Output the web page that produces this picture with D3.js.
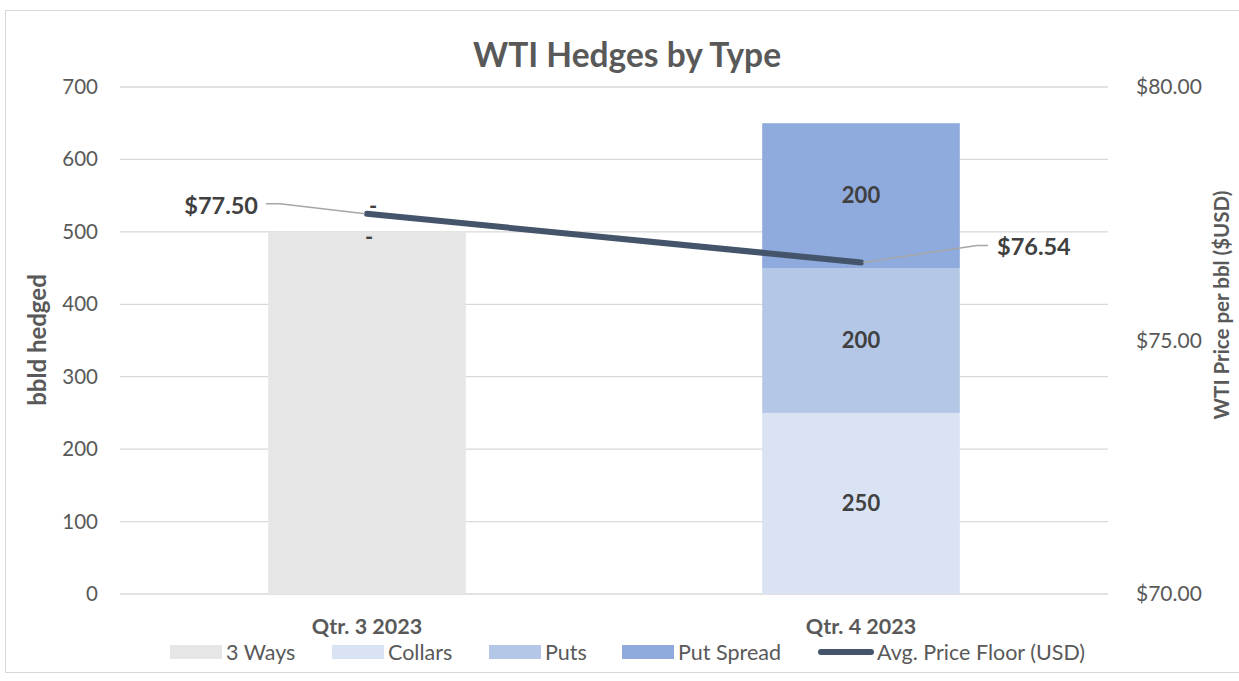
<!DOCTYPE html>
<html><head><meta charset="utf-8">
<script src="https://cdn.jsdelivr.net/npm/d3@7"></script>
<style>body{margin:0;background:#fff;}svg{display:block;font-family:Lato,"Open Sans",sans-serif;}</style>
</head><body>
<svg id="c" width="1239" height="681"></svg>
<script>
const categories = ["Qtr. 3 2023", "Qtr. 4 2023"];
const seriesNames = ["3 Ways", "Collars", "Puts", "Put Spread"];
const threeWays = [500, 0];
const collars = [0, 250];
const puts = [0, 200];
const putSpread = [0, 200];
const priceFloor = [77.50, 76.54];
const leftTicks = [0, 100, 200, 300, 400, 500, 600, 700];
const rightTicks = [70, 75, 80];
const colors = ["#E7E6E6", "#DAE3F3", "#B4C7E7", "#8FAADC"];
const lineColor = "#44546A";

(function () {
const svg = d3.select("#c");
const W = 1239, H = 681;
const pLeft = 120, pRight = 1108, pTop = 87, pBottom = 594;

svg.append("rect").attr("x", 5.5).attr("y", 10.5).attr("width", W).attr("height", 662)
  .attr("fill", "#fff").attr("stroke", "#D9D9D9");

const x = d3.scaleBand().domain(categories).range([pLeft, pRight]).paddingInner(0.6).paddingOuter(0.3);
const y = d3.scaleLinear().domain([0, 700]).range([pBottom, pTop]);
const y2 = d3.scaleLinear().domain([70, 80]).range([pBottom, pTop]);

// gridlines
svg.append("g").selectAll("line").data(leftTicks).join("line")
  .attr("x1", pLeft).attr("x2", pRight).attr("y1", d => y(d)).attr("y2", d => y(d))
  .attr("stroke", "#D9D9D9").attr("stroke-width", 1.3);

// left axis
const la = svg.append("g").attr("transform", `translate(${pLeft},0)`)
  .call(d3.axisLeft(y).tickValues(leftTicks).tickSize(0).tickPadding(22));
la.select(".domain").remove();
la.selectAll("text").attr("font-size", 20.5).attr("fill", "#595959").attr("font-family", "Lato");

// right axis
const ra = svg.append("g").attr("transform", `translate(${pRight},0)`)
  .call(d3.axisRight(y2).tickValues(rightTicks).tickFormat(d => "$" + d3.format(".2f")(d)).tickSize(0).tickPadding(28));
ra.select(".domain").remove();
ra.selectAll("text").attr("font-size", 21).attr("fill", "#595959").attr("font-family", "Lato");

// stacked bars
const table = categories.map((c, i) => ({cat: c, "3 Ways": threeWays[i], "Collars": collars[i], "Puts": puts[i], "Put Spread": putSpread[i]}));
const stack = d3.stack().keys(seriesNames)(table);
const gBars = svg.append("g");
stack.forEach((s, si) => {
  gBars.selectAll(null).data(s).join("rect")
    .attr("x", d => x(d.data.cat)).attr("width", x.bandwidth())
    .attr("y", d => y(d[1])).attr("height", d => y(d[0]) - y(d[1]))
    .attr("fill", colors[si]);
});

// bar labels (nonzero segments, except 3 Ways which has no labels)
stack.forEach((s, si) => {
  if (si === 0) return;
  s.forEach(d => {
    const v = d[1] - d[0];
    if (v > 0) {
      svg.append("text").attr("x", x(d.data.cat) + x.bandwidth() / 2).attr("y", y((d[0] + d[1]) / 2))
        .attr("dy", "0.35em").attr("text-anchor", "middle").attr("font-size", 22).attr("font-weight", "bold")
        .attr("fill", "#404040").text(d3.format(",")(v));
    }
  });
});
// zero-value dash labels on Q3
const q3 = categories[0];
const zeroLab = [["Collars", 5], ["Put Spread", -26]];
zeroLab.forEach(([k, off]) => {
  const s = stack[seriesNames.indexOf(k)][0];
  svg.append("text").attr("x", x(q3) + x.bandwidth() / 2 + (off < 0 ? 6 : 2)).attr("y", y(s[1]) + off)
    .attr("dy", "0.35em").attr("text-anchor", "middle").attr("font-size", 22).attr("font-weight", "bold")
    .attr("fill", "#404040").text("-");
});

// line
const cx = c => x(c) + x.bandwidth() / 2;
const pts = categories.map((c, i) => [cx(c), y2(priceFloor[i])]);
svg.append("path").attr("d", d3.line()(pts)).attr("fill", "none")
  .attr("stroke", lineColor).attr("stroke-width", 6).attr("stroke-linecap", "round");

// price labels with leader lines
const fmt = d => "$" + d3.format(".2f")(d);
svg.append("path").attr("d", d3.line()([[pts[0][0] - 2, pts[0][1]], [pts[0][0] - 87, pts[0][1] - 10], [pts[0][0] - 101, pts[0][1] - 10]]))
  .attr("fill", "none").attr("stroke", "#A6A6A6").attr("stroke-width", 1.5);
svg.append("text").attr("x", pts[0][0] - 109).attr("y", pts[0][1] - 8).attr("dy", "0.35em")
  .attr("text-anchor", "end").attr("font-size", 23.5).attr("font-weight", "bold").attr("fill", "#404040").text(fmt(priceFloor[0]));
svg.append("path").attr("d", d3.line()([[pts[1][0] + 2, pts[1][1]], [pts[1][0] + 116, pts[1][1] - 17], [pts[1][0] + 127, pts[1][1] - 17]]))
  .attr("fill", "none").attr("stroke", "#A6A6A6").attr("stroke-width", 1.5);
svg.append("text").attr("x", pts[1][0] + 136).attr("y", pts[1][1] - 16).attr("dy", "0.35em")
  .attr("text-anchor", "start").attr("font-size", 23.5).attr("font-weight", "bold").attr("fill", "#404040").text(fmt(priceFloor[1]));

// category labels
svg.append("g").selectAll("text").data(categories).join("text")
  .attr("x", d => cx(d)).attr("y", 626).attr("dy", "0.35em").attr("text-anchor", "middle")
  .attr("font-size", 21.5).attr("font-weight", "bold").attr("fill", "#595959").text(d => d);

// title
svg.append("text").attr("x", 627).attr("y", 55).attr("dy", "0.35em").attr("text-anchor", "middle")
  .attr("font-size", 33.5).attr("font-weight", "bold").attr("fill", "#595959").text("WTI Hedges by Type");

// axis titles
svg.append("text").attr("transform", "translate(38,340) rotate(-90)").attr("dy", "0.35em").attr("text-anchor", "middle")
  .attr("font-size", 24).attr("font-weight", "bold").attr("fill", "#595959").text("bbld hedged");
svg.append("text").attr("transform", "translate(1222,305) rotate(-90)").attr("dy", "0.35em").attr("text-anchor", "middle")
  .attr("font-size", 20.5).attr("font-weight", "bold").attr("fill", "#595959").text("WTI Price per bbl ($USD)");

// legend
const legendItems = seriesNames.map((n, i) => ({name: n, color: colors[i], type: "rect"}))
  .concat([{name: "Avg. Price Floor (USD)", color: lineColor, type: "line"}]);
const legX = [170, 332, 489, 622, 818];
const lg = svg.append("g");
legendItems.forEach((d, i) => {
  const g = lg.append("g").attr("transform", `translate(${legX[i]},652)`);
  if (d.type === "rect") {
    g.append("rect").attr("x", 0).attr("y", -7).attr("width", 52).attr("height", 14).attr("fill", d.color);
  } else {
    g.append("line").attr("x1", 3).attr("x2", 53).attr("y1", 0).attr("y2", 0)
      .attr("stroke", d.color).attr("stroke-width", 6).attr("stroke-linecap", "round");
  }
  g.append("text").attr("x", d.type === "rect" ? 56 : 59).attr("y", 0).attr("dy", "0.35em")
    .attr("font-size", 21.5).attr("fill", "#595959").text(d.name);
});
})();
</script>
</body></html>
